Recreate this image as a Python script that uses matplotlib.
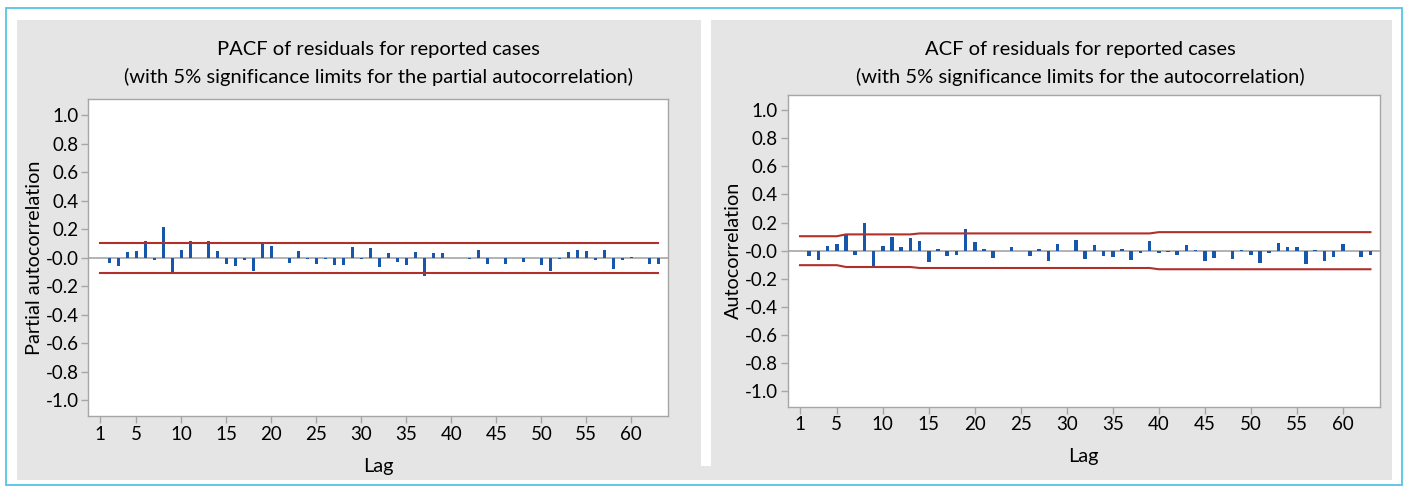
import matplotlib.pyplot as plt
from matplotlib.patches import Rectangle
import numpy as np

plt.rcParams['font.family'] = ['Lato', 'DejaVu Sans']
plt.rcParams['axes.unicode_minus'] = False

lags = np.arange(1, 64)

# partial autocorrelation of the residuals, lags 1..63
pacf = [0.0, -0.035, -0.058, 0.040, 0.049, 0.114, -0.019, 0.215, -0.117, 0.056,
        0.114, 0.0, 0.114, 0.049, -0.042, -0.061, -0.019, -0.093, 0.105, 0.084,
        0.0, -0.035, 0.049, -0.012, -0.044, -0.012, -0.051, -0.051, 0.075, -0.012,
        0.068, -0.065, 0.033, -0.033, -0.051, 0.040, -0.126, 0.033, 0.033, 0.0,
        0.0, -0.009, 0.056, -0.044, 0.0, -0.044, 0.0, -0.028, 0.0, -0.051,
        -0.093, -0.012, 0.040, 0.056, 0.049, -0.019, 0.056, -0.077, -0.019, 0.007,
        0.0, -0.044, -0.044]
pacf_limit = 0.105

# autocorrelation of the residuals, lags 1..63
acf = [0.0, -0.040, -0.064, 0.036, 0.045, 0.109, -0.031, 0.197, -0.123, 0.036,
       0.100, 0.026, 0.088, 0.069, -0.081, 0.012, -0.040, -0.031, 0.154, 0.062,
       0.012, -0.055, 0.0, 0.026, 0.0, -0.040, 0.012, -0.074, 0.045, 0.0,
       0.078, -0.062, 0.038, -0.038, -0.045, 0.010, -0.069, -0.015, 0.071, -0.019,
       -0.010, -0.028, 0.038, 0.008, -0.071, -0.055, 0.0, -0.062, 0.008, -0.028,
       -0.090, -0.019, 0.055, 0.028, 0.028, -0.097, 0.008, -0.071, -0.045, 0.047,
       0.0, -0.047, -0.028]
# ACF limits widen with the lag
acf_limit = [0.103] * 5 + [0.116] * 8 + [0.123] * 26 + [0.132] * 24

xticks = [1, 5, 10, 15, 20, 25, 30, 35, 40, 45, 50, 55, 60]
yticks = np.round(np.arange(-1.0, 1.01, 0.2), 1)

W, H = 1407, 488
BLUE = '#1757ab'
RED = '#b0302b'
GREY = '#a6a6a6'

fig = plt.figure(figsize=(W / 100, H / 100), dpi=100)


def box(x0, y0, x1, y1):
    # pixel box (top-left origin) -> figure fractions
    return x0 / W, 1 - y1 / H, (x1 - x0) / W, (y1 - y0) / H


def add_rect(x0, y0, x1, y1, **kw):
    l, b, w, h = box(x0, y0, x1, y1)
    fig.add_artist(Rectangle((l, b), w, h, transform=fig.transFigure, zorder=-1, **kw))


# panel backgrounds and outer frame
add_rect(17, 20, 701, 480, facecolor='#e5e5e5', edgecolor='none')
add_rect(711, 20, 1392, 480, facecolor='#e5e5e5', edgecolor='none')
add_rect(701, 466, 711, 480, facecolor='#e5e5e5', edgecolor='none')
add_rect(5.5, 8, 1401.5, 484.5, facecolor='none', edgecolor='#55c4e6', linewidth=1.3)


def corr_panel(rect, values, limit, ylabel, title, title_x):
    ax = fig.add_axes(box(*rect))
    ax.set_facecolor('white')
    ax.axhline(0, color=GREY, lw=1.2, zorder=1)
    ax.bar(lags, values, width=0.38, color=BLUE, zorder=2)
    lim = np.broadcast_to(np.asarray(limit, dtype=float), lags.shape)
    ax.plot(lags, lim, color=RED, lw=1.5, zorder=3)
    ax.plot(lags, -lim, color=RED, lw=1.5, zorder=3)
    ax.set_xlim(-0.34, 64.04)
    ax.set_ylim(-1.11, 1.11)
    ax.set_xticks(xticks)
    ax.set_yticks(yticks)
    ax.set_yticklabels(['%.1f' % v for v in yticks])
    ax.tick_params(labelsize=13.5, length=5, width=1, color=GREY, pad=2)
    for s in ax.spines.values():
        s.set_color(GREY)
        s.set_linewidth(1)
    ax.set_ylabel(ylabel, fontsize=14.3)
    ax.yaxis.set_label_coords(-0.092, 0.5)
    ax.yaxis.label.set_verticalalignment('center')
    ax.set_xlabel('Lag', fontsize=14.3)
    ax.xaxis.set_label_coords(0.5, -0.16)
    ax.xaxis.label.set_verticalalignment('center')
    fig.text(title_x / W, 1 - 50 / H, title[0], ha='center', va='center', fontsize=14.5)
    fig.text(title_x / W, 1 - 77 / H, title[1], ha='center', va='center', fontsize=14.5)
    return ax


corr_panel((88.3, 99.3, 667.7, 416), pacf, pacf_limit, 'Partial autocorrelation',
           ('PACF of residuals for reported cases',
            '(with 5% significance limits for the partial autocorrelation)'), 378)
corr_panel((787.7, 94.7, 1380, 406.7), acf, acf_limit, 'Autocorrelation',
           ('ACF of residuals for reported cases',
            '(with 5% significance limits for the autocorrelation)'), 1080)

fig.savefig('out.png', dpi=100)
